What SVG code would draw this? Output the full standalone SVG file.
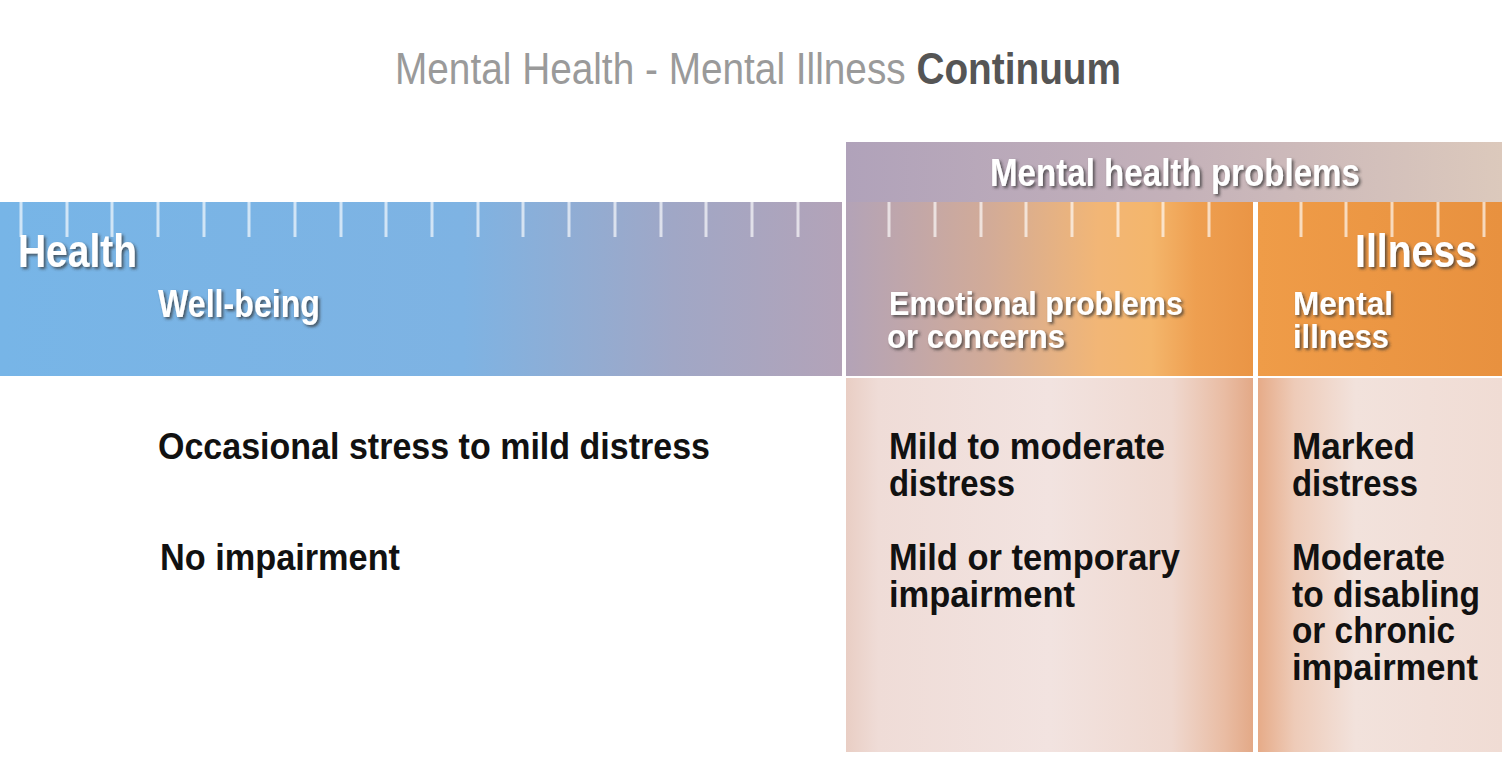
<svg xmlns="http://www.w3.org/2000/svg" width="1502" height="762" viewBox="0 0 1502 762">
<defs>
<linearGradient id="gBlue" x1="0" y1="0" x2="1" y2="0">
<stop offset="0" stop-color="#77b5e7"/><stop offset="0.55" stop-color="#7eb3e3"/><stop offset="0.8" stop-color="#a0a7c6"/><stop offset="1" stop-color="#b3a3b8"/>
</linearGradient>
<linearGradient id="gHead" x1="0" y1="0" x2="1" y2="0">
<stop offset="0" stop-color="#b0a2ba"/><stop offset="0.5" stop-color="#c4b1b9"/><stop offset="1" stop-color="#dcc9bc"/>
</linearGradient>
<linearGradient id="gMid" x1="0" y1="0" x2="1" y2="0">
<stop offset="0" stop-color="#b3a3b7"/><stop offset="0.35" stop-color="#d2ab98"/><stop offset="0.62" stop-color="#f2b676"/><stop offset="0.75" stop-color="#f4b66c"/><stop offset="0.86" stop-color="#ee9f50"/><stop offset="1" stop-color="#ea9545"/>
</linearGradient>
<linearGradient id="gRight" x1="0" y1="0" x2="1" y2="0">
<stop offset="0" stop-color="#ef9c48"/><stop offset="1" stop-color="#e8913f"/>
</linearGradient>
<linearGradient id="gCol1" x1="0" y1="0" x2="1" y2="0">
<stop offset="0" stop-color="#e9cec4"/><stop offset="0.08" stop-color="#efdcd7"/><stop offset="0.5" stop-color="#f2e3e0"/><stop offset="0.8" stop-color="#efd8cf"/><stop offset="0.93" stop-color="#e9bca3"/><stop offset="1" stop-color="#e3a987"/>
</linearGradient>
<linearGradient id="gCol2" x1="0" y1="0" x2="1" y2="0">
<stop offset="0" stop-color="#e6ab88"/><stop offset="0.15" stop-color="#eecbb8"/><stop offset="0.4" stop-color="#f2e2dc"/><stop offset="1" stop-color="#f0dcd4"/>
</linearGradient>
<filter id="sh" x="-10%" y="-30%" width="130%" height="170%">
<feDropShadow dx="2" dy="2" stdDeviation="1.5" flood-color="#333" flood-opacity="0.75"/>
</filter>
<style>
.w{fill:#fff;font-family:"Liberation Sans",Arial,sans-serif;font-weight:bold;filter:url(#sh)}
.b{fill:#111;font-family:"Liberation Sans",Arial,sans-serif;font-weight:bold;font-size:36px}
.tick{stroke:#fff;stroke-opacity:0.65;stroke-width:3}
</style>
</defs>
<rect width="1502" height="762" fill="#fff"/>

<g id="title">
<text x="395" y="84" font-family="'Liberation Sans',Arial,sans-serif" font-size="44" fill="#9a9a9a" textLength="726" lengthAdjust="spacingAndGlyphs">Mental Health - Mental Illness <tspan fill="#555" font-weight="bold">Continuum</tspan></text>
</g>

<g id="health-bar">
<rect x="0" y="202" width="842" height="174" fill="url(#gBlue)"/>
</g>
<g id="problems-header">
<rect x="846" y="142" width="656" height="60" fill="url(#gHead)"/>
<text class="w" x="990" y="186" font-size="38" textLength="370" lengthAdjust="spacingAndGlyphs">Mental health problems</text>
</g>
<g id="emotional-bar">
<rect x="846" y="202" width="407" height="174" fill="url(#gMid)"/>
</g>
<g id="illness-bar">
<rect x="1258" y="202" width="244" height="174" fill="url(#gRight)"/>
</g>
<g id="col-emotional">
<rect x="846" y="378" width="407" height="374" fill="url(#gCol1)"/>
</g>
<g id="col-illness">
<rect x="1258" y="378" width="244" height="374" fill="url(#gCol2)"/>
</g>

<g id="ticks">
<path class="tick" d="M21 202V237M67 202V237M112 202V237M158 202V237M204 202V237M249 202V237M295 202V237M341 202V237M386 202V237M432 202V237M478 202V237M523 202V237M569 202V237M615 202V237M661 202V237M706 202V237M752 202V237M798 202V237M889 202V237M935 202V237M981 202V237M1026 202V237M1072 202V237M1118 202V237M1163 202V237M1209 202V237M1301 202V237M1346 202V237M1392 202V237M1438 202V237M1484 202V237"/>
</g>

<g id="health-labels">
<text class="w" x="18" y="267" font-size="46" textLength="119" lengthAdjust="spacingAndGlyphs">Health</text>
<text class="w" x="158" y="317" font-size="38" textLength="162" lengthAdjust="spacingAndGlyphs">Well-being</text>
</g>
<g id="emotional-labels">
<text class="w" x="889" y="315" font-size="34" textLength="294" lengthAdjust="spacingAndGlyphs">Emotional problems</text>
<text class="w" x="887" y="348" font-size="34" textLength="178" lengthAdjust="spacingAndGlyphs">or concerns</text>
</g>
<g id="illness-labels">
<text class="w" x="1355" y="267" font-size="46" textLength="122" lengthAdjust="spacingAndGlyphs">Illness</text>
<text class="w" x="1293" y="315" font-size="34" textLength="100" lengthAdjust="spacingAndGlyphs">Mental</text>
<text class="w" x="1293" y="348" font-size="34" textLength="96" lengthAdjust="spacingAndGlyphs">illness</text>
</g>

<g id="health-desc">
<text class="b" x="158" y="459" textLength="552" lengthAdjust="spacingAndGlyphs">Occasional stress to mild distress</text>
<text class="b" x="160" y="570" textLength="240" lengthAdjust="spacingAndGlyphs">No impairment</text>
</g>
<g id="emotional-desc">
<text class="b" x="889" y="459" textLength="276" lengthAdjust="spacingAndGlyphs">Mild to moderate</text>
<text class="b" x="889" y="496" textLength="126" lengthAdjust="spacingAndGlyphs">distress</text>
<text class="b" x="889" y="570" textLength="291" lengthAdjust="spacingAndGlyphs">Mild or temporary</text>
<text class="b" x="889" y="607" textLength="186" lengthAdjust="spacingAndGlyphs">impairment</text>
</g>
<g id="illness-desc">
<text class="b" x="1292" y="459" textLength="123" lengthAdjust="spacingAndGlyphs">Marked</text>
<text class="b" x="1292" y="496" textLength="126" lengthAdjust="spacingAndGlyphs">distress</text>
<text class="b" x="1292" y="570" textLength="153" lengthAdjust="spacingAndGlyphs">Moderate</text>
<text class="b" x="1292" y="607" textLength="188" lengthAdjust="spacingAndGlyphs">to disabling</text>
<text class="b" x="1292" y="643" textLength="163" lengthAdjust="spacingAndGlyphs">or chronic</text>
<text class="b" x="1292" y="680" textLength="186" lengthAdjust="spacingAndGlyphs">impairment</text>
</g>
</svg>
